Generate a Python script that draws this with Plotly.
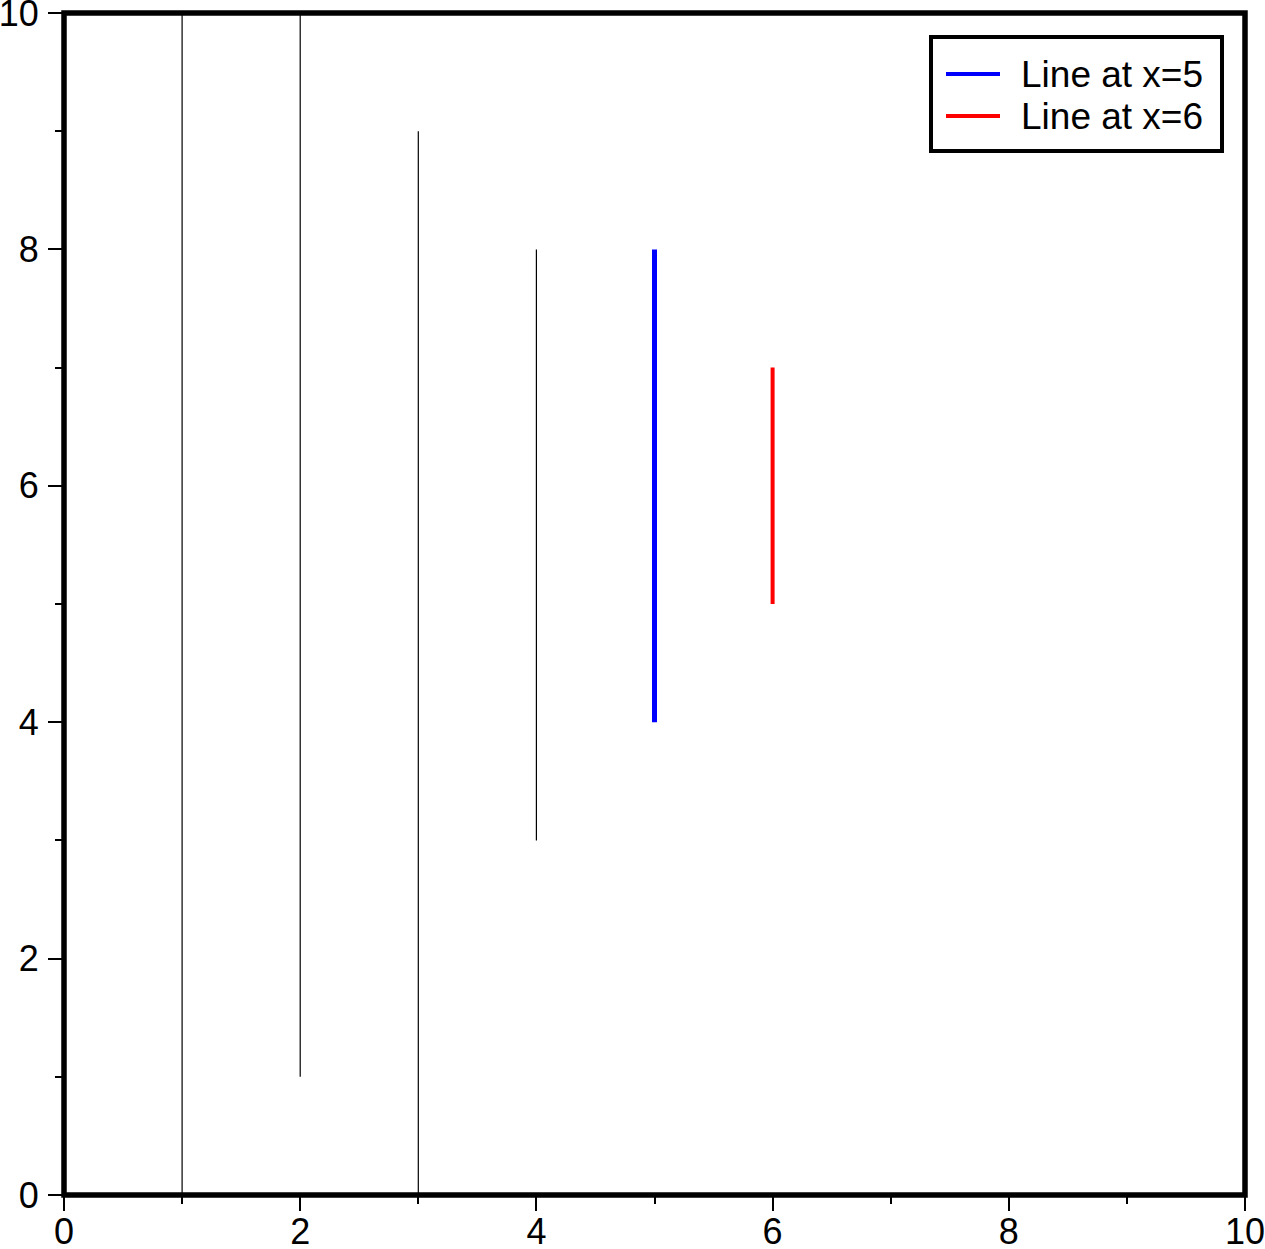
import plotly.graph_objects as go

# vertical segments: x position, bottom and top of each line
line_x = [1, 2, 3, 4, 5, 6]
line_bottom = [0, 1, 0, 3, 4, 5]
line_top = [10, 10, 9, 8, 8, 7]
line_names = [None, None, None, None, "Line at x=5", "Line at x=6"]
line_colors = ["black", "black", "black", "black", "blue", "red"]
line_widths = [1.2, 1.2, 1.2, 1.2, 5, 4]

tick_vals = [0, 2, 4, 6, 8, 10]

font_family = "Liberation Sans, Arial, Helvetica, sans-serif"

W, H = 1265, 1249
L, R, T, B = 64, 20, 13, 54
plot_w = W - L - R
plot_h = H - T - B


def px_to_paper(px, py):
    return (px - L) / plot_w, (H - B - py) / plot_h


fig = go.Figure()

for x, y0, y1, name, color, w in zip(line_x, line_bottom, line_top, line_names, line_colors, line_widths):
    fig.add_trace(go.Scatter(
        x=[x, x], y=[y0, y1], mode="lines",
        line=dict(color=color, width=w),
        name=name if name else "",
        showlegend=False,
        hoverinfo="skip",
    ))

axis_common = dict(
    range=[0, 10], tickvals=tick_vals, ticks="outside", ticklen=15, tickwidth=2,
    tickcolor="black", showline=False,
    showgrid=False, zeroline=False, automargin=False,
    ticklabeloverflow="allow",
    minor=dict(dtick=1, ticks="outside", ticklen=8, tickwidth=2, tickcolor="black", showgrid=False),
    tickfont=dict(family=font_family, size=36, color="black"),
)

fig.update_xaxes(ticklabelstandoff=-10, **axis_common)
fig.update_yaxes(ticklabelstandoff=2, **axis_common)

# frame centred on the plot edges (GMT style)
fig.add_shape(type="rect", xref="paper", yref="paper", x0=0, y0=0, x1=1, y1=1,
              line=dict(color="black", width=5.5), layer="above")

# legend box drawn by hand (GMT style)
bx0, by0 = px_to_paper(931, 151)
bx1, by1 = px_to_paper(1222, 37)
fig.add_shape(type="rect", xref="paper", yref="paper", x0=bx0, y0=by0, x1=bx1, y1=by1,
              line=dict(color="black", width=4), fillcolor="white", layer="above")

legend_rows = [(name, color, w) for name, color, w in zip(line_names, line_colors, line_widths) if name]
row_y = [74, 116]
for (name, color, w), ry in zip(legend_rows, row_y):
    sx0, sy = px_to_paper(946, ry)
    sx1, _ = px_to_paper(1000, ry)
    fig.add_shape(type="line", xref="paper", yref="paper", x0=sx0, y0=sy, x1=sx1, y1=sy,
                  line=dict(color=color, width=4), layer="above")
    tx, _ = px_to_paper(1019, ry)
    fig.add_annotation(xref="paper", yref="paper", x=tx, y=sy, text=name, showarrow=False,
                       xanchor="left", yanchor="middle",
                       font=dict(family=font_family, size=37, color="black"))

fig.update_layout(
    width=W, height=H,
    margin=dict(l=L, r=R, t=T, b=B),
    plot_bgcolor="white", paper_bgcolor="white",
    font=dict(family=font_family, color="black"),
    showlegend=False,
)

# drop the default page margin so the figure sits at the window origin
fig.write_html("out.html", config={"displayModeBar": False},
               post_script="document.body.style.margin='0';document.body.style.overflow='hidden';")
